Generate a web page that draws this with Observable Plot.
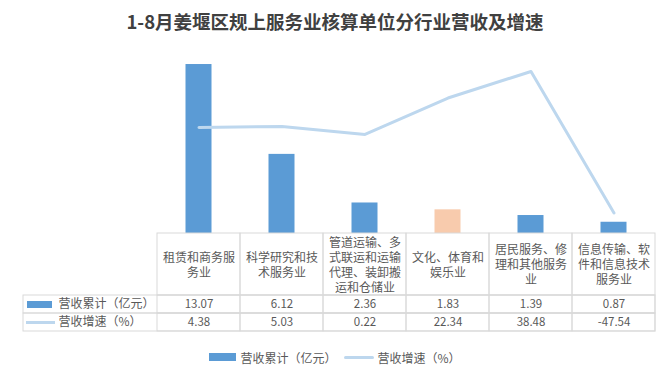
<!DOCTYPE html>
<html>
<head>
<meta charset="utf-8">
<script src="https://cdn.jsdelivr.net/npm/d3@7"></script>
<script src="https://cdn.jsdelivr.net/npm/@observablehq/plot@0.6"></script>
<style>
  html, body { margin: 0; padding: 0; background: #fff; }
  body { font-family: "Noto Sans CJK SC", "Noto Sans", sans-serif; }
  #wrap { position: relative; width: 670px; height: 377px; overflow: hidden; background: #fff; }
  #title { position: absolute; left: 0; top: 8px; width: 670px; text-align: center; font-size: 18.5px; font-weight: bold; color: #404040; line-height: 26px; }
  .abs { position: absolute; left: 0; }
  #legend { position: absolute; left: 0; top: 348px; width: 670px; height: 18px; display: flex; justify-content: center; align-items: center; font-size: 12px; color: #595959; }
  .sw-bar { display: inline-block; width: 27px; height: 8px; background: #5b9bd5; margin-right: 4px; }
  .sw-line { display: inline-block; width: 30px; height: 3px; background: #bdd7ee; margin-right: 3px; margin-left: 8px; border-radius: 1.5px; }
</style>
</head>
<body>
<div id="wrap">
  <div id="title">1-8月姜堰区规上服务业核算单位分行业营收及增速</div>
  <div id="chart" class="abs" style="top:44px"></div>
  <div id="thead" class="abs" style="top:233px"></div>
  <div id="tbody" class="abs" style="top:295px"></div>
  <div id="legend"></div>
</div>
<script>
// ---- data ----
const categories = [
  "租赁和商务服务业",
  "科学研究和技术服务业",
  "管道运输、多式联运和运输代理、装卸搬运和仓储业",
  "文化、体育和娱乐业",
  "居民服务、修理和其他服务业",
  "信息传输、软件和信息技术服务业"
];
const revenue = [13.07, 6.12, 2.36, 1.83, 1.39, 0.87];      // 营收累计（亿元）
const growth = [4.38, 5.03, 0.22, 22.34, 38.48, -47.54];   // 营收增速（%）
const seriesNames = ["营收累计（亿元）", "营收增速（%）"];
const revenueDomain = [0, 14];
const growthDomain = [-60, 50];

// ---- style ----
const BLUE = "#5b9bd5", PEACH = "#f8cbad", LINE = "#bdd7ee", GRID = "#d9d9d9", TXT = "#595959";
const highlighted = 3;
const FONT = '"Noto Sans CJK SC", "Noto Sans", sans-serif';
const W = 670, ML = 157, MR = 15;
const common = {
  width: W, marginLeft: ML, marginRight: MR,
  style: {background: "transparent", overflow: "visible", fontFamily: FONT, color: TXT}
};
const xScale = {domain: categories, padding: 0, axis: null};

// secondary axis mapped onto the primary
const g2y = d3.scaleLinear().domain(growthDomain).range(revenueDomain);
const rows = categories.map((c, i) => ({c, i, rev: revenue[i], gr: growth[i]}));

// chart
const chart = Plot.plot({
  ...common,
  height: 189, marginTop: 8, marginBottom: 0,
  x: xScale,
  y: {domain: revenueDomain, axis: null},
  marks: [
    Plot.barY(rows.filter(d => d.i !== highlighted), {x: "c", y: "rev", fill: BLUE, insetLeft: 28.5, insetRight: 28.5}),
    Plot.barY(rows.filter(d => d.i === highlighted), {x: "c", y: "rev", fill: PEACH, insetLeft: 28.5, insetRight: 28.5}),
    Plot.line(rows, {x: "c", y: d => g2y(d.gr), stroke: LINE, strokeWidth: 3, strokeLinecap: "round", strokeLinejoin: "round"})
  ]
});
document.getElementById("chart").appendChild(chart);

// table header row (category labels wrapped every 6 chars)
const wrap6 = s => (s.match(/.{1,6}/gu) || []).join("\n");
const head = Plot.plot({
  ...common,
  height: 62, marginTop: 0, marginBottom: 0,
  x: xScale,
  marks: [
    Plot.cell(categories, {x: d => d, fill: "none", stroke: GRID}),
    Plot.text(categories, {x: d => d, text: wrap6, frameAnchor: "middle", fontSize: 12, lineHeight: 1.25, fill: TXT})
  ]
});
document.getElementById("thead").appendChild(head);

// table body rows
const cells = [];
rows.forEach(d => {
  cells.push({c: d.c, s: seriesNames[0], v: d.rev.toFixed(2)});
  cells.push({c: d.c, s: seriesNames[1], v: d.gr.toFixed(2)});
});
const body = Plot.plot({
  ...common,
  height: 36, marginTop: 0, marginBottom: 0,
  x: xScale,
  y: {domain: seriesNames, padding: 0, axis: null},
  marks: [
    Plot.cell(seriesNames, {y: d => d, fill: "none", stroke: GRID, insetLeft: -134}),
    Plot.cell(cells, {x: "c", y: "s", fill: "none", stroke: GRID}),
    Plot.text(cells, {x: "c", y: "s", text: "v", fontSize: 11.5, fill: TXT, fontFamily: FONT}),
    Plot.tickY([seriesNames[0]], {y: d => d, stroke: BLUE, strokeWidth: 7, insetLeft: -130, insetRight: 603}),
    Plot.tickY([seriesNames[1]], {y: d => d, stroke: LINE, strokeWidth: 3, insetLeft: -131, insetRight: 600}),
    Plot.text(seriesNames, {y: d => d, text: d => d, frameAnchor: "left", textAnchor: "start", dx: -99, fontSize: 12, fill: TXT})
  ]
});
document.getElementById("tbody").appendChild(body);

// legend
const legend = document.getElementById("legend");
legend.innerHTML = `<span class="sw-bar"></span><span>${seriesNames[0]}</span><span class="sw-line"></span><span>${seriesNames[1]}</span>`;
</script>
</body>
</html>
